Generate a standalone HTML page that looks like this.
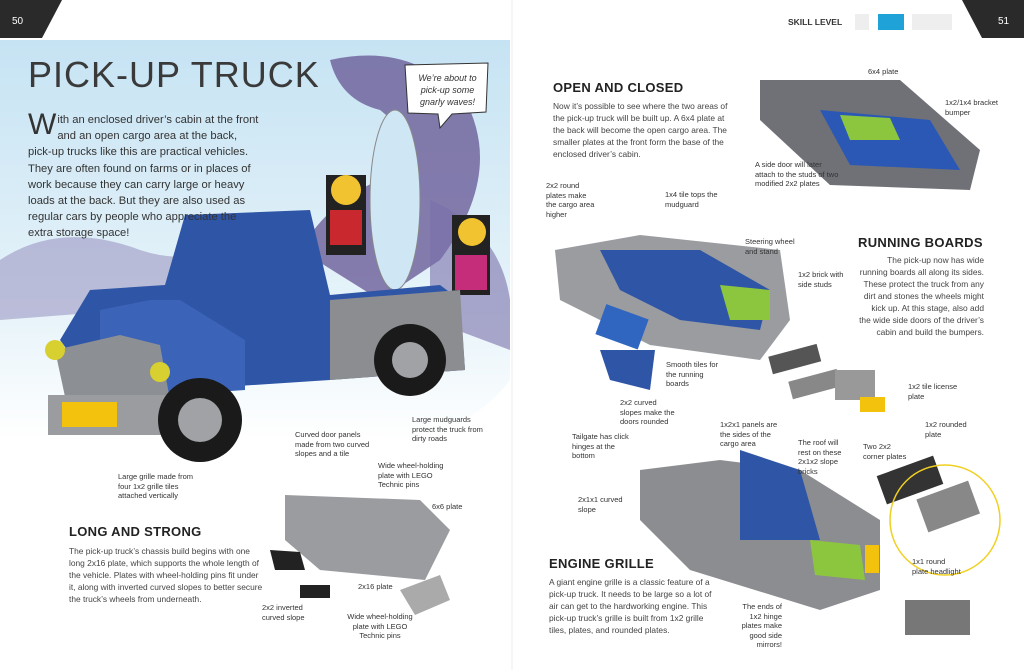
<!DOCTYPE html>
<html><head><meta charset="utf-8"><style>
body{margin:0;width:1024px;height:670px;overflow:hidden;background:#fff;font-family:"Liberation Sans",sans-serif;position:relative;color:#333}
.a{position:absolute}
.s{font-size:7.5px;line-height:9.5px;color:#333}
.h{font-size:13px;font-weight:bold;color:#222;letter-spacing:0.3px}
.b{font-size:8.4px;line-height:12px;color:#444}
</style></head><body>
<svg class="a" style="left:0;top:0" width="1024" height="670">
<polygon points="0,0 62,0 42,38 0,38" fill="#2a2a2a"/>
<polygon points="962,0 1024,0 1024,38 982,38" fill="#2a2a2a"/>
<line x1="512" y1="0" x2="512" y2="670" stroke="#eee"/>
<defs><linearGradient id="sk" x1="0" y1="0" x2="0" y2="1"><stop offset="0" stop-color="#c6e3f3"/><stop offset="0.7" stop-color="#e8f4fa"/><stop offset="1" stop-color="#fff"/></linearGradient></defs>
<path d="M0,40 L510,40 L510,380 Q480,420 420,440 L0,440 Z" fill="url(#sk)"/>
<path d="M330,60 Q420,40 470,110 Q500,180 440,260 L380,300 L300,250 Q330,200 380,180 Q420,140 380,110 Q340,100 330,60Z" fill="#6c5e98" opacity="0.8"/>
<path d="M0,260 Q60,220 140,250 Q200,270 250,230 L260,300 L0,320Z" fill="#8e86b8" opacity="0.5"/>
<path d="M430,200 Q500,230 510,300 L510,350 L430,320Z" fill="#7a70aa" opacity="0.6"/>
<path d="M405,65 L488,63 L486,112 L452,114 L440,128 L438,114 L408,113Z" fill="#fff" stroke="#333"/>
<ellipse cx="395" cy="200" rx="25" ry="90" fill="#cfe6f5" stroke="#888"/>
<rect x="326" y="175" width="40" height="80" fill="#222"/><circle cx="346" cy="190" r="15" fill="#f2c330"/><rect x="330" y="210" width="32" height="35" fill="#c8282e"/>
<rect x="452" y="215" width="38" height="80" fill="#222"/><circle cx="472" cy="232" r="14" fill="#f2c330"/><rect x="455" y="255" width="32" height="35" fill="#c52c7a"/>
<path d="M90,290 L165,285 L185,215 L310,210 L330,295 L440,285 L460,300 L465,370 L330,380 L100,395 L60,340Z" fill="#2f55a6"/>
<path d="M100,310 L150,300 L180,300 L245,340 L245,390 L100,400Z" fill="#3b63b8"/>
<path d="M55,350 L120,335 L160,345 L170,400 L130,430 L70,420Z" fill="#8c8f94"/>
<rect x="48" y="395" width="140" height="40" fill="#9a9ca0"/>
<rect x="62" y="402" width="55" height="25" fill="#f2c20c"/>
<path d="M330,300 L460,290 L465,370 L330,380Z" fill="#8b8d91"/>
<circle cx="200" cy="420" r="42" fill="#1a1a1a"/><circle cx="200" cy="420" r="22" fill="#a0a2a6"/>
<circle cx="410" cy="360" r="36" fill="#1a1a1a"/><circle cx="410" cy="360" r="18" fill="#a0a2a6"/>
<circle cx="55" cy="350" r="10" fill="#d8d030"/><circle cx="160" cy="372" r="10" fill="#d8d030"/>
<path d="M285,495 L420,500 L450,530 L425,580 L320,570 L285,540Z" fill="#9a9ca0"/>
<path d="M270,550 L300,552 L305,570 L275,570Z" fill="#222"/><path d="M300,585 L330,585 L330,598 L300,598Z" fill="#222"/>
<path d="M400,590 L440,575 L450,600 L415,615Z" fill="#aaa"/>
<path d="M760,80 L900,80 L980,150 L970,190 L830,185 L760,120Z" fill="#6f7176"/>
<path d="M820,110 L930,120 L960,170 L850,165Z" fill="#2c58b5"/><path d="M840,115 L890,118 L900,140 L850,140Z" fill="#8cc63f"/>
<path d="M555,250 L640,235 L780,250 L790,320 L760,360 L650,345 L560,300Z" fill="#9a9ca0"/>
<path d="M600,250 L700,250 L770,290 L760,330 L680,320 L620,290Z" fill="#2f55a6"/><path d="M720,285 L770,290 L770,320 L730,320Z" fill="#8cc63f"/>
<rect x="600" y="310" width="45" height="32" fill="#3066c0" transform="rotate(20 620 325)"/>
<path d="M600,350 L655,350 L650,390 L610,380Z" fill="#2f55a6"/>
<rect x="770" y="350" width="50" height="18" fill="#555" transform="rotate(-15 795 360)"/><rect x="790" y="375" width="50" height="18" fill="#888" transform="rotate(-15 815 385)"/>
<rect x="835" y="370" width="40" height="30" fill="#999"/><rect x="860" y="397" width="25" height="15" fill="#f2c20c"/>
<path d="M640,470 L720,460 L800,470 L880,520 L880,590 L820,610 L690,570 L640,520Z" fill="#8b8d91"/>
<path d="M740,450 L800,470 L820,540 L740,540Z" fill="#2f55a6"/><path d="M810,540 L860,545 L865,580 L815,575Z" fill="#8cc63f"/>
<rect x="865" y="545" width="14" height="28" fill="#f2c20c"/>
<rect x="880" y="465" width="60" height="30" fill="#333" transform="rotate(-20 910 480)"/><rect x="920" y="490" width="55" height="35" fill="#888" transform="rotate(-20 945 505)"/>
<circle cx="945" cy="520" r="55" fill="none" stroke="#f0d020" stroke-width="1.5"/>
<rect x="905" y="600" width="65" height="35" fill="#777"/>
</svg>
<div class="a" style="left:12px;top:16px;font-size:10px;color:#fff">50</div>
<div class="a" style="left:998px;top:16px;font-size:10px;color:#fff">51</div>
<div class="a" style="left:788px;top:17px;font-size:8.5px;font-weight:bold;color:#333">SKILL LEVEL</div>
<div class="a" style="left:855px;top:14px;width:14px;height:16px;background:#eee"></div>
<div class="a" style="left:878px;top:14px;width:26px;height:16px;background:#1fa2d8"></div>
<div class="a" style="left:912px;top:14px;width:40px;height:16px;background:#eee"></div>
<div class="a" style="left:28px;top:54px;font-size:36px;color:#3a3a3a;letter-spacing:1px">PICK-UP TRUCK</div>
<div class="a" style="left:28px;top:112px;width:232px;font-size:11.2px;line-height:16.2px;color:#333"><span style="float:left;font-size:30px;line-height:26px;margin-right:1px">W</span>ith an enclosed driver’s cabin at the front and an open cargo area at the back, pick-up trucks like this are practical vehicles. They are often found on farms or in places of work because they can carry large or heavy loads at the back. But they are also used as regular cars by people who appreciate the extra storage space!</div>
<div class="a" style="left:410px;top:72px;width:75px;text-align:center;font-size:9px;line-height:12px;font-style:italic">We’re about to pick-up some gnarly waves!</div>
<div class="a s" style="left:295px;top:430px;width:85px">Curved door panels made from two curved slopes and a tile</div>
<div class="a s" style="left:412px;top:415px;width:80px">Large mudguards protect the truck from dirty roads</div>
<div class="a s" style="left:118px;top:472px;width:90px">Large grille made from four 1x2 grille tiles attached vertically</div>
<div class="a s" style="left:378px;top:461px;width:75px">Wide wheel-holding plate with LEGO Technic pins</div>
<div class="a s" style="left:432px;top:502px">6x6 plate</div>
<div class="a s" style="left:358px;top:582px">2x16 plate</div>
<div class="a s" style="left:262px;top:603px;width:50px">2x2 inverted curved slope</div>
<div class="a s" style="left:345px;top:612px;width:70px;text-align:center">Wide wheel-holding plate with LEGO Technic pins</div>
<div class="a h" style="left:69px;top:524px">LONG AND STRONG</div>
<div class="a b" style="left:69px;top:545px;width:196px">The pick-up truck’s chassis build begins with one long 2x16 plate, which supports the whole length of the vehicle. Plates with wheel-holding pins fit under it, along with inverted curved slopes to better secure the truck’s wheels from underneath.</div>
<div class="a h" style="left:553px;top:80px">OPEN AND CLOSED</div>
<div class="a b" style="left:553px;top:100px;width:182px">Now it’s possible to see where the two areas of the pick-up truck will be built up. A 6x4 plate at the back will become the open cargo area. The smaller plates at the front form the base of the enclosed driver’s cabin.</div>
<div class="a s" style="left:868px;top:67px">6x4 plate</div>
<div class="a s" style="left:945px;top:98px;width:60px">1x2/1x4 bracket bumper</div>
<div class="a s" style="left:755px;top:160px;width:85px">A side door will later attach to the studs of two modified 2x2 plates</div>
<div class="a s" style="left:546px;top:181px;width:50px">2x2 round plates make the cargo area higher</div>
<div class="a s" style="left:665px;top:190px;width:60px">1x4 tile tops the mudguard</div>
<div class="a s" style="left:745px;top:237px;width:60px">Steering wheel and stand</div>
<div class="a s" style="left:798px;top:270px;width:50px">1x2 brick with side studs</div>
<div class="a h" style="left:858px;top:235px">RUNNING BOARDS</div>
<div class="a b" style="left:858px;top:254px;width:126px;text-align:right">The pick-up now has wide running boards all along its sides. These protect the truck from any dirt and stones the wheels might kick up. At this stage, also add the wide side doors of the driver’s cabin and build the bumpers.</div>
<div class="a s" style="left:666px;top:360px;width:60px">Smooth tiles for the running boards</div>
<div class="a s" style="left:620px;top:398px;width:60px">2x2 curved slopes make the doors rounded</div>
<div class="a s" style="left:908px;top:382px;width:50px">1x2 tile license plate</div>
<div class="a s" style="left:572px;top:432px;width:60px">Tailgate has click hinges at the bottom</div>
<div class="a s" style="left:720px;top:420px;width:60px">1x2x1 panels are the sides of the cargo area</div>
<div class="a s" style="left:798px;top:438px;width:50px">The roof will rest on these 2x1x2 slope bricks</div>
<div class="a s" style="left:925px;top:420px;width:50px">1x2 rounded plate</div>
<div class="a s" style="left:863px;top:442px;width:50px">Two 2x2 corner plates</div>
<div class="a s" style="left:578px;top:495px;width:50px">2x1x1 curved slope</div>
<div class="a s" style="left:912px;top:557px;width:50px">1x1 round plate headlight</div>
<div class="a h" style="left:549px;top:556px">ENGINE GRILLE</div>
<div class="a b" style="left:549px;top:576px;width:170px">A giant engine grille is a classic feature of a pick-up truck. It needs to be large so a lot of air can get to the hardworking engine. This pick-up truck’s grille is built from 1x2 grille tiles, plates, and rounded plates.</div>
<div class="a s" style="left:732px;top:602px;width:50px;text-align:right">The ends of 1x2 hinge plates make good side mirrors!</div>
</body></html>
